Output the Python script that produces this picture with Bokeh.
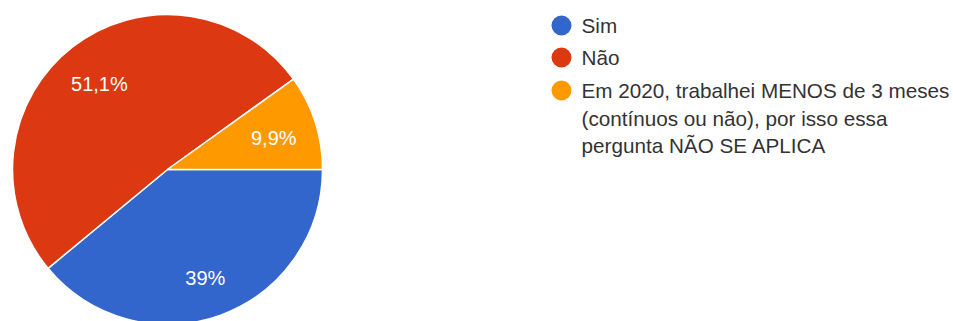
import math
from bokeh.plotting import figure
from bokeh.models import Range1d, ColumnDataSource
from bokeh.core.properties import value
from bokeh.embed import file_html
from bokeh.resources import INLINE

# ---- data ----
categories = ["Sim", "Não",
              "Em 2020, trabalhei MENOS de 3 meses\n(contínuos ou não), por isso essa\npergunta NÃO SE APLICA"]
percentages = [39.0, 51.1, 9.9]
pct_labels = ["39%", "51,1%", "9,9%"]
colors = ["#3366CC", "#DC3912", "#FF9900"]

# ---- layout (pixel space) ----
W, H = 953, 321
cx, cy_px, R = 167, 169, 155
cy = H - cy_px
FONT = "Liberation Sans"

p = figure(width=W, height=H, output_backend="svg", toolbar_location=None,
           x_range=Range1d(0, W), y_range=Range1d(0, H),
           x_axis_type=None, y_axis_type=None, min_border=0,
           background_fill_color="white", border_fill_color="white")
p.grid.visible = False
p.outline_line_color = None

total = sum(percentages)
starts, ends, lx, ly = [], [], [], []
cum = 0.0
for v in percentages:
    a0 = cum / total * 2 * math.pi
    cum += v
    a1 = cum / total * 2 * math.pi
    # clockwise from 3 o'clock
    starts.append(-a1)
    ends.append(-a0)
    mid = -(a0 + a1) / 2
    lx.append(cx + 0.72 * R * math.cos(mid))
    ly.append(cy + 0.72 * R * math.sin(mid) - 3)

src = ColumnDataSource(dict(start=starts, end=ends, color=colors,
                            lx=lx, ly=ly, lab=pct_labels))
p.wedge(x=cx, y=cy, radius=R, start_angle="start", end_angle="end",
        fill_color="color", line_color="white", line_width=1.5, source=src)
p.text(x="lx", y="ly", text="lab", source=src, text_color="white",
       text_font=value(FONT), text_font_size="20px",
       text_align="center", text_baseline="middle")

# ---- legend ----
leg_x, text_x = 561, 581
item_y_px = [25, 57, 90]
line_h = 27.5
tx, ty, tt = [], [], []
for i, lab in enumerate(categories):
    p.scatter(x=[leg_x], y=[H - item_y_px[i]], size=20, marker="circle",
              fill_color=colors[i], line_color=None)
    for j, line in enumerate(lab.split("\n")):
        tx.append(text_x)
        ty.append(H - (item_y_px[i] + j * line_h))
        tt.append(line)
p.text(x=tx, y=ty, text=tt, text_color="#333333", text_font=value(FONT),
       text_font_size="20.7px", text_align="left", text_baseline="middle")

open("out.html", "w").write(file_html(p, INLINE))
